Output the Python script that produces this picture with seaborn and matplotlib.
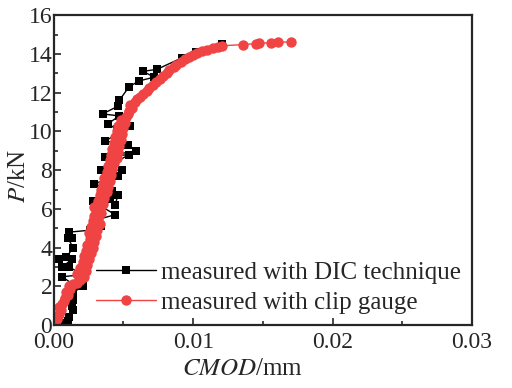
import numpy as np
import pandas as pd
import matplotlib
matplotlib.use("Agg")
import matplotlib.pyplot as plt
import seaborn as sns
from matplotlib.ticker import MultipleLocator

# CMOD (mm) and load P (kN), measured with DIC
dic_cmod = [0.0001, 0.0006, 0.0010, 0.0011, 0.0014, 0.0013, 0.0014, 0.0014, 0.0021, 0.0016,
            0.0006, 0.0021, 0.0011, 0.0006, 0.0013, 0.0004, 0.0009, 0.0014, 0.0010, 0.0013,
            0.0011, 0.0026, 0.0034, 0.0029, 0.0044, 0.0028, 0.0040, 0.0044, 0.0046, 0.0042,
            0.0029, 0.0046, 0.0049, 0.0034, 0.0054, 0.0037, 0.0059, 0.0053, 0.0037, 0.0055,
            0.0045, 0.0039, 0.0047, 0.0035, 0.0046, 0.0047, 0.0054, 0.0061, 0.0072, 0.0064,
            0.0074, 0.0092, 0.0102, 0.0121]
dic_load = [0.0, 0.1, 0.2, 0.4, 0.8, 1.0, 1.3, 1.7, 2.0, 2.0,
            2.5, 2.6, 3.0, 3.0, 3.4, 3.4, 3.5, 4.0, 4.5, 4.5,
            4.8, 4.9, 5.1, 5.4, 5.7, 6.4, 6.5, 6.2, 6.7, 6.9,
            7.3, 7.7, 8.0, 8.0, 8.8, 8.7, 9.0, 9.3, 9.5, 10.3,
            10.1, 10.4, 10.8, 10.9, 11.3, 11.6, 12.3, 12.6, 12.8, 13.1,
            13.2, 13.8, 14.1, 14.5]

# CMOD (mm) and load P (kN), measured with clip gauge
clip_cmod = [0.0000, 0.0001, 0.0002, 0.0003, 0.0004, 0.0005, 0.0004, 0.0006, 0.0007, 0.0008,
             0.0010, 0.0009, 0.0012, 0.0011, 0.0014, 0.0017, 0.0019, 0.0022, 0.0017, 0.0023,
             0.0019, 0.0024, 0.0021, 0.0025, 0.0022, 0.0027, 0.0023, 0.0028, 0.0024, 0.0029,
             0.0026, 0.0030, 0.0025, 0.0031, 0.0027, 0.0033, 0.0028, 0.0032, 0.0029, 0.0034,
             0.0030, 0.0029, 0.0035, 0.0032, 0.0036, 0.0033, 0.0038, 0.0034, 0.0039, 0.0035,
             0.0040, 0.0036, 0.0041, 0.0038, 0.0042, 0.0039, 0.0043, 0.0040, 0.0045, 0.0041,
             0.0046, 0.0042, 0.0047, 0.0043, 0.0048, 0.0044, 0.0049, 0.0045, 0.0050, 0.0046,
             0.0051, 0.0048, 0.0052, 0.0053, 0.0054, 0.0056, 0.0055, 0.0058, 0.0060, 0.0062,
             0.0064, 0.0067, 0.0068, 0.0071, 0.0073, 0.0076, 0.0078, 0.0081, 0.0083, 0.0086,
             0.0088, 0.0091, 0.0094, 0.0097, 0.0100, 0.0103, 0.0106, 0.0110, 0.0114, 0.0118,
             0.0121, 0.0136, 0.0145, 0.0147, 0.0156, 0.0161, 0.0170]
clip_load = [0.00, 0.15, 0.30, 0.45, 0.60, 0.80, 0.95, 1.10, 1.25, 1.40,
             1.55, 1.70, 1.85, 2.00, 2.10, 2.20, 2.35, 2.50, 2.65, 2.80,
             2.95, 3.10, 3.25, 3.40, 3.55, 3.70, 3.85, 4.00, 4.15, 4.30,
             4.45, 4.60, 4.75, 4.90, 5.05, 5.20, 5.35, 5.50, 5.65, 5.80,
             5.95, 6.10, 6.25, 6.40, 6.55, 6.70, 6.85, 7.00, 7.15, 7.30,
             7.45, 7.60, 7.75, 7.90, 8.05, 8.20, 8.35, 8.50, 8.65, 8.80,
             8.95, 9.10, 9.25, 9.40, 9.55, 9.70, 9.85, 10.00, 10.15, 10.30,
             10.45, 10.60, 10.75, 10.90, 11.05, 11.20, 11.35, 11.50, 11.65, 11.80,
             11.95, 12.10, 12.25, 12.40, 12.55, 12.70, 12.85, 13.00, 13.15, 13.30,
             13.45, 13.60, 13.75, 13.85, 13.95, 14.05, 14.15, 14.22, 14.30, 14.36,
             14.42, 14.48, 14.53, 14.55, 14.58, 14.60, 14.62]

sns.set_style("ticks")
plt.rcParams['font.family'] = ['Liberation Serif', 'DejaVu Serif']
plt.rcParams['mathtext.fontset'] = 'stix'

fig = plt.figure(figsize=(5.12, 3.88), dpi=100)
ax = fig.add_axes([0.105, 0.162, 0.817, 0.799])

dic = pd.DataFrame({"cmod": dic_cmod, "load": dic_load})
clip = pd.DataFrame({"cmod": clip_cmod, "load": clip_load})

sns.lineplot(data=dic, x="cmod", y="load", sort=False, estimator=None, ax=ax,
             color="black", lw=1.0, marker="s", markersize=5.5, markeredgewidth=0,
             label="measured with DIC technique")
sns.lineplot(data=clip, x="cmod", y="load", sort=False, estimator=None, ax=ax,
             color="#F04444", lw=1.0, marker="o", markersize=7.5, markeredgewidth=0,
             label="measured with clip gauge")

ax.set_xlim(0, 0.03)
ax.set_ylim(0, 16)
ax.xaxis.set_major_locator(MultipleLocator(0.01))
ax.xaxis.set_minor_locator(MultipleLocator(0.005))
ax.yaxis.set_major_locator(MultipleLocator(2))
ax.yaxis.set_minor_locator(MultipleLocator(1))
ax.set_xticklabels([f"{v:.2f}" for v in ax.get_xticks()])
ax.tick_params(which="both", direction="in", width=1.2, labelsize=17, pad=1)
ax.tick_params(axis="x", pad=5)
ax.tick_params(which="major", length=5)
ax.tick_params(which="minor", length=3)
for s in ax.spines.values():
    s.set_linewidth(1.6)

ax.set_xlabel(r"$\mathit{CMOD}$/mm", fontsize=18)
ax.set_ylabel(r"$\mathit{P}$/kN", fontsize=18)
ax.xaxis.set_label_coords(0.452, -0.105)
ax.yaxis.set_label_coords(-0.057, 0.48)

ax.legend(loc="lower right", bbox_to_anchor=(1.0, 0.0), frameon=False, fontsize=18,
          handlelength=2.4, handletextpad=0.2, borderaxespad=0.0, borderpad=0.45,
          labelspacing=0.3)

fig.savefig("out.png", dpi=100)
